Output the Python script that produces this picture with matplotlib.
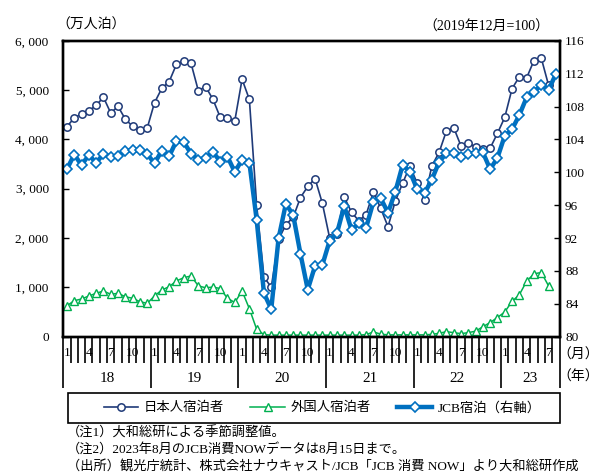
import numpy as np
import matplotlib
matplotlib.use('Agg')
import matplotlib.pyplot as plt
import matplotlib.transforms as mtransforms
from matplotlib.patches import Rectangle
from matplotlib.ticker import FuncFormatter

plt.rcParams['font.family'] = ['Liberation Serif', 'Noto Sans CJK JP']

# monthly data, Jan 2018 onward (万人泊 / index Dec 2019 = 100)
japanese = [4260, 4435, 4520, 4580, 4690, 4855, 4535, 4670, 4410, 4265, 4190, 4230,
            4745, 5035, 5170, 5520, 5590, 5545, 4990, 5070, 4815, 4450, 4430, 4375,
            5220, 4810, 2660, 1210, 1000, 1970, 2270, 2420, 2820, 3045, 3205, 2705,
            2000, 2080, 2830, 2520, 2350, 2475, 2935, 2600, 2230, 2750, 3110, 3460,
            3110, 2770, 3460, 3738, 4170, 4240, 3866, 3920, 3852, 3800, 3825, 4124,
            4448, 5030, 5272, 5250, 5600, 5650, 5100]
foreign = [627, 728, 763, 824, 878, 925, 858, 878, 809, 777, 708, 675,
           824, 945, 1012, 1128, 1195, 1230, 1030, 990, 1005, 975, 777, 692,
           925, 565, 148, 40, 30, 30, 30, 30, 30, 30, 30, 30,
           30, 30, 30, 30, 30, 40, 95, 50, 35, 35, 35, 35,
           35, 35, 45, 67, 100, 80, 60, 80, 110, 200, 286, 387,
           500, 715, 850, 1124, 1274, 1300, 1030]
jcb = [100.38, 102.15, 100.88, 102.10, 101.16, 102.22, 101.86, 102.00, 102.63, 102.67, 102.71, 102.20,
       101.09, 102.63, 101.94, 103.80, 103.70, 102.26, 101.53, 101.75, 102.50, 101.30, 101.90, 100.03,
       101.53, 101.16, 94.19, 85.27, 83.35, 91.96, 96.16, 94.80, 90.08, 85.72, 88.60, 88.71,
       91.67, 92.57, 95.90, 92.97, 93.79, 93.26, 96.42, 96.83, 95.08, 97.63, 100.88, 100.07,
       97.93, 97.44, 99.10, 101.25, 102.31, 102.38, 101.89, 102.22, 102.38, 102.43, 100.36, 101.77,
       104.45, 105.23, 106.97, 109.12, 109.80, 110.62, 110.01, 111.96]

years = ['18', '19', '20', '21', '22', '23']
month_labels = ['1', '4', '7', '10']
series_names = ['日本人宿泊者', '外国人宿泊者', 'JCB宿泊（右軸）']

NAVY = '#1F3A78'
GREEN = '#00B050'
BLUE = '#0070C0'

n = len(jcb)
x = np.arange(n)

fig = plt.figure(figsize=(5.99, 4.75), dpi=100)
ax = fig.add_axes([63.3 / 599, 1 - 336.6 / 475, 496.2 / 599, 295.8 / 475])

l1, = ax.plot(x[:len(japanese)], japanese, color=NAVY, lw=1.2, marker='o', ms=5.3,
              mfc='white', mec=NAVY, mew=1.1)
l2, = ax.plot(x[:len(foreign)], foreign, color=GREEN, lw=1.1, marker='^', ms=5.5,
              mfc='white', mec=GREEN, mew=1.0)
ax.set_ylim(0, 6000)
ax.set_yticks(np.arange(0, 6001, 1000))
ax.yaxis.set_major_formatter(FuncFormatter(lambda v, p: f'{int(v):,}'.replace(',', ', ')))
ax.tick_params(axis='y', direction='in', length=4, width=1, pad=10.5, labelsize=9.5)

ax2 = ax.twinx()
l3, = ax2.plot(x, jcb, color=BLUE, lw=3.2, marker='D', ms=5.5, mfc='white',
               mec=BLUE, mew=1.2)
ax2.set_ylim(80, 116)
ax2.set_yticks(np.arange(80, 117, 4))
ax2.tick_params(axis='y', direction='in', length=4, width=1, pad=4, labelsize=9.5)

ax.set_xlim(-0.5, n - 0.5)
for a in (ax, ax2):
    for s in a.spines.values():
        s.set_linewidth(1.7)
        s.set_color('black')

# month / year separators below the axis
year_starts = list(range(0, n, 12))
ax.set_xticks([s - 0.5 for s in year_starts] + [n - 0.5])
ax.set_xticks(np.arange(-0.5, n, 1), minor=True)
ax.tick_params(axis='x', which='major', direction='out', length=37, width=1.2,
               labelbottom=False)
ax.tick_params(axis='x', which='minor', direction='out', length=18.5, width=1.2)

trans = mtransforms.blended_transform_factory(ax.transData, ax.transAxes)
for i in x:
    m = i % 12
    if m in (0, 3, 6, 9):
        ax.text(i, -0.056, month_labels[m // 3], transform=trans, ha='center',
                va='center', fontsize=9.5)
for k, yr in enumerate(years):
    start = year_starts[k]
    end = min(start + 12, n)
    ax.text((start + end - 1) / 2, -0.143, yr, transform=trans, ha='center',
            va='center', fontsize=11)

fig.text(578 / 599, 1 - 355 / 475, '（月）', ha='center', va='center', fontsize=10)
fig.text(578 / 599, 1 - 377 / 475, '（年）', ha='center', va='center', fontsize=10)

fig.text(56 / 599, 1 - 25 / 475, '（万人泊）', ha='left', va='center', fontsize=10)
fig.text(549 / 599, 1 - 27 / 475, '（2019年12月=100）', ha='right', va='center',
         fontsize=10)

# legend box with the entries centred inside it
fig.patches.append(Rectangle((68 / 599, 1 - 423 / 475), 492 / 599, 30 / 475,
                             transform=fig.transFigure, fill=False,
                             ec='black', lw=1.2))
fig.legend([l1, l2, l3], series_names, loc='center', ncol=3,
           bbox_to_anchor=(322 / 599, 1 - 408 / 475), frameon=False,
           fontsize=9.6, handlelength=2.6, handletextpad=0.4, columnspacing=2.0,
           borderaxespad=0)

notes = ['（注1）大和総研による季節調整値。',
         '（注2）2023年8月のJCB消費NOWデータは8月15日まで。',
         '（出所）観光庁統計、株式会社ナウキャスト/JCB「JCB 消費 NOW」より大和総研作成']
for j, t in enumerate(notes):
    fig.text(67 / 599, 1 - (433 + 16.5 * j) / 475, t, ha='left', va='center',
             fontsize=9.5)

fig.savefig('out.png', dpi=100)
